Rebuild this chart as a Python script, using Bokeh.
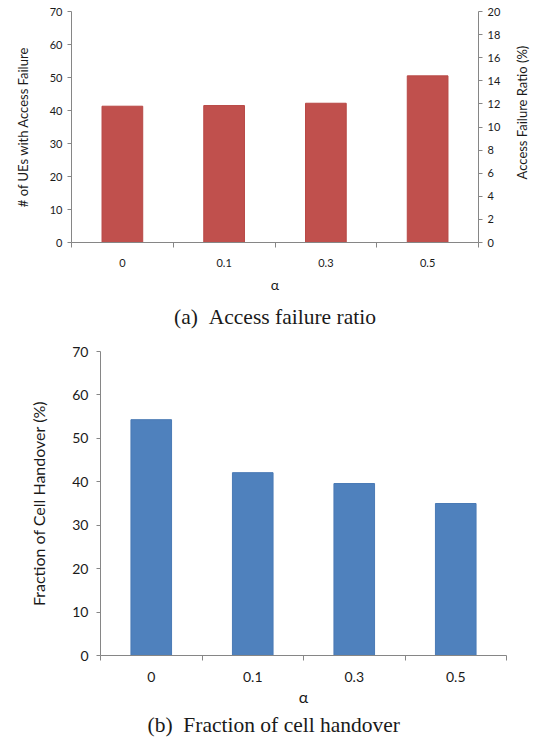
import math
from bokeh.plotting import figure
from bokeh.models import Range1d, LinearAxis, FixedTicker, Title
from bokeh.layouts import row
from bokeh.core.properties import value
from bokeh.embed import file_html
from bokeh.resources import INLINE

# ---- data ----
alpha_labels = ["0", "0.1", "0.3", "0.5"]
ues_access_failure = [41.3, 41.5, 42.2, 50.5]     # left axis (# of UEs)
handover_fraction = [54.3, 42.1, 39.6, 35.0]      # (%)
left_ticks_a = [0, 10, 20, 30, 40, 50, 60, 70]
right_ticks_a = [0, 2, 4, 6, 8, 10, 12, 14, 16, 18, 20]
left_ticks_b = [0, 10, 20, 30, 40, 50, 60, 70]
right_title_a = "Access Failure Ratio (%)"

AXIS = "#868686"
TXT = "#1a1a1a"
FONT = "Lato"

n = len(alpha_labels)
xc = [i + 0.5 for i in range(n)]
bounds = [i for i in range(n + 1)]
overrides = {x: lab for x, lab in zip(xc, alpha_labels)}


def style_x(p, tick_size, label_size, standoff, label_standoff):
    ax = p.xaxis[0]
    ax.ticker = FixedTicker(ticks=xc, minor_ticks=bounds)
    ax.major_label_overrides = overrides
    ax.major_tick_line_color = None
    ax.major_tick_out = 0
    ax.major_tick_in = 0
    ax.minor_tick_line_color = AXIS
    ax.minor_tick_out = 5
    ax.minor_tick_in = 0
    ax.axis_line_color = AXIS
    ax.major_label_text_font = FONT
    ax.major_label_text_font_size = tick_size
    ax.major_label_text_color = TXT
    ax.major_label_standoff = standoff
    ax.axis_label = "α"
    ax.axis_label_text_font = FONT
    ax.axis_label_text_font_size = label_size
    ax.axis_label_text_font_style = "normal"
    ax.axis_label_text_color = TXT
    ax.axis_label_standoff = label_standoff


def style_y(ax, tick_size, label_size, standoff, label_standoff):
    ax.axis_line_color = AXIS
    ax.major_tick_line_color = AXIS
    ax.major_tick_out = 4
    ax.major_tick_in = 0
    ax.minor_tick_line_color = None
    ax.major_label_text_font = FONT
    ax.major_label_text_font_size = tick_size
    ax.major_label_text_color = TXT
    ax.major_label_standoff = standoff
    ax.axis_label_text_font = FONT
    ax.axis_label_text_font_size = label_size
    ax.axis_label_text_font_style = "normal"
    ax.axis_label_text_color = TXT
    ax.axis_label_standoff = label_standoff


# ---- (a) ----
p1 = figure(width=508, height=336, x_range=Range1d(0, n), y_range=Range1d(0, 70),
            output_backend="svg", toolbar_location=None,
            min_border_left=71, min_border_right=30, min_border_top=11, min_border_bottom=93)
p1.grid.visible = False
p1.outline_line_color = None
p1.vbar(x=xc, top=ues_access_failure, width=0.4, fill_color="#C0504D", line_color="#B84845")
style_x(p1, "11px", "14px", 11, 6)
p1.yaxis[0].ticker = FixedTicker(ticks=left_ticks_a)
p1.yaxis[0].axis_label = "# of UEs with Access Failure"
style_y(p1.yaxis[0], "11px", "13px", 5, 16)

p1.extra_y_ranges = {"ratio": Range1d(0, 20)}
rax = LinearAxis(y_range_name="ratio", ticker=FixedTicker(ticks=right_ticks_a))
style_y(rax, "11px", "13px", 5, 8)
p1.add_layout(rax, "right")
p1.add_layout(Title(text="(a)\u2002Access failure ratio", align="center",
                    text_font="Liberation Serif", text_font_size="21.5px",
                    text_font_style="normal", text_color=TXT, standoff=15), "below")

# strip holding the right-axis title, reading bottom-to-top as in the reference
p1r = figure(width=32, height=336, x_range=Range1d(0, 1), y_range=Range1d(0, 1),
             output_backend="svg", toolbar_location=None,
             x_axis_location=None, y_axis_location=None,
             min_border_left=0, min_border_right=0, min_border_top=11, min_border_bottom=93)
p1r.grid.visible = False
p1r.outline_line_color = None
p1r.text(x=[0.43], y=[0.5625], text=[right_title_a], angle=math.pi / 2,
         text_align="center", text_baseline="middle",
         text_font=value(FONT), text_font_size="13px", text_color=TXT)

# ---- (b) ----
p2 = figure(width=540, height=406, x_range=Range1d(0, n), y_range=Range1d(0, 70),
            output_backend="svg", toolbar_location=None,
            min_border_left=100, min_border_right=34, min_border_top=15, min_border_bottom=87)
p2.grid.visible = False
p2.outline_line_color = None
p2.vbar(x=xc, top=handover_fraction, width=0.4, fill_color="#4F81BD", line_color="#4A7AB5")
style_x(p2, "14px", "16px", 11, 2)
p2.yaxis[0].ticker = FixedTicker(ticks=left_ticks_b)
p2.yaxis[0].axis_label = "Fraction of Cell Handover (%)"
style_y(p2.yaxis[0], "14px", "16px", 8, 21)
p2.add_layout(Title(text="(b)\u2002Fraction of cell handover", align="left", offset=47,
                    text_font="Liberation Serif", text_font_size="21.5px",
                    text_font_style="normal", text_color=TXT, standoff=4), "below")

p = [row(p1, p1r), p2]
open("out.html", "w").write(file_html(p, INLINE))
